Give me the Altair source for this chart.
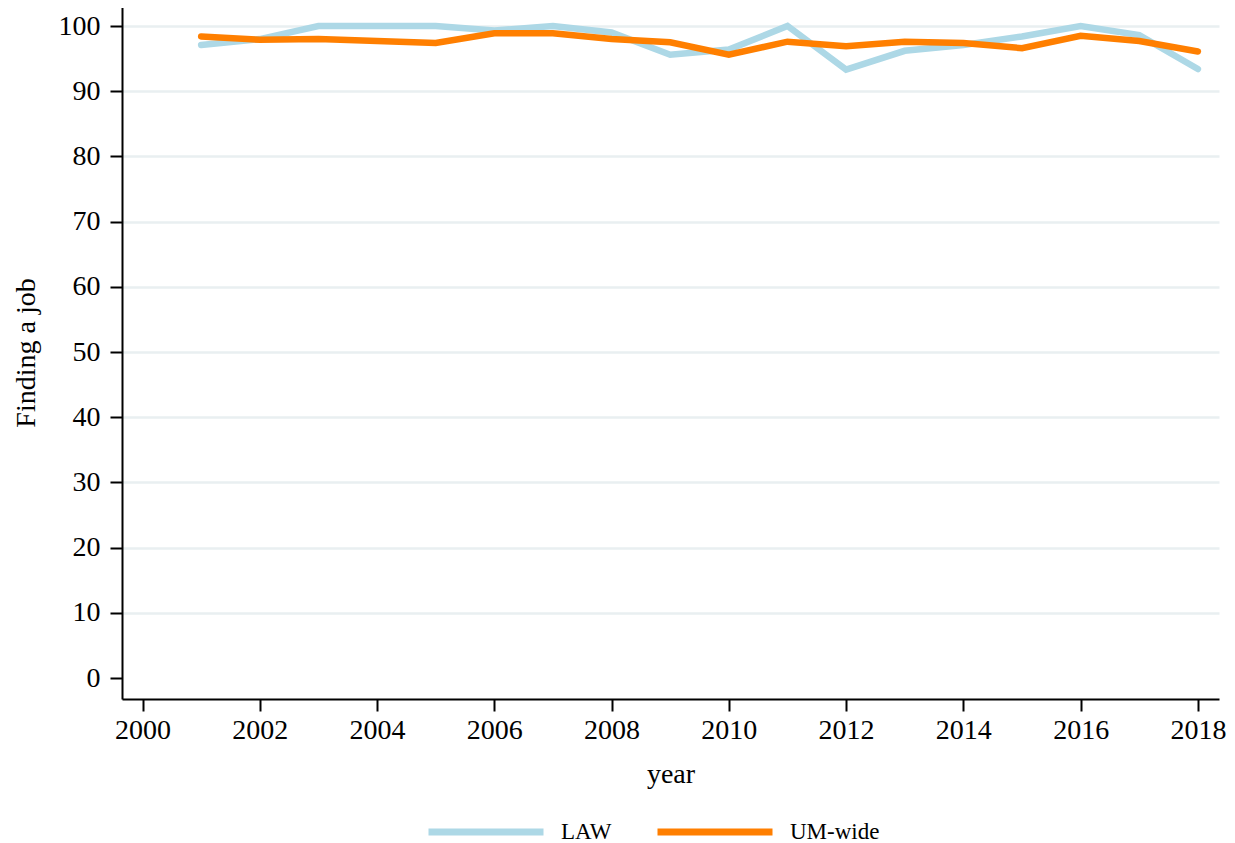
import altair as alt
import pandas as pd

years = list(range(2001, 2019))
law = [97.1, 98.0, 100.0, 100.0, 100.0, 99.3, 100.0, 99.0, 95.6, 96.4,
       100.0, 93.3, 96.2, 97.1, 98.4, 100.0, 98.6, 93.4]
um_wide = [98.4, 97.9, 98.0, 97.7, 97.4, 98.9, 98.9, 98.0, 97.5, 95.6,
           97.6, 96.9, 97.6, 97.4, 96.6, 98.5, 97.7, 96.1]
series_names = ["LAW", "UM-wide"]
series_colors = ["#add8e6", "#ff7f00"]
x_ticks = list(range(2000, 2019, 2))
y_ticks = list(range(0, 101, 10))

rows = []
for name, vals in zip(series_names, [law, um_wide]):
    for yr, v in zip(years, vals):
        rows.append({"year": yr, "value": v, "series": name})
df = pd.DataFrame(rows)

FONT = "Liberation Serif"

chart = alt.Chart(df).mark_line(strokeWidth=6.5, strokeCap="round").encode(
    x=alt.X("year:Q",
            scale=alt.Scale(domain=[1999.65, 2018.36], nice=False, zero=False),
            axis=alt.Axis(values=x_ticks, format="d", title="year", grid=False,
                          labelPadding=5, titlePadding=16)),
    y=alt.Y("value:Q",
            scale=alt.Scale(domain=[-3.22, 103.07], nice=False, zero=False),
            axis=alt.Axis(values=y_ticks, title="Finding a job", grid=True,
                          gridColor="#e9eff1", gridWidth=2.5,
                          gridOpacity={"condition": {"test": "datum.value === 0", "value": 0}, "value": 1},
                          labelPadding=10, titlePadding=18)),
    color=alt.Color("series:N",
                    scale=alt.Scale(domain=series_names, range=series_colors),
                    legend=alt.Legend(orient="none", legendX=349, legendY=811,
                                      direction="horizontal", title=None,
                                      symbolType="M-5,0H5", symbolSize=529,
                                      symbolStrokeWidth=7, labelFontSize=23,
                                      labelFont=FONT, labelColor="black",
                                      labelOffset=60, columnPadding=31, padding=0)),
).properties(
    width=1097, height=693,
    autosize=alt.AutoSizeParams(type="none"),
    padding={"left": 114, "top": -2, "right": 8, "bottom": 150},
).configure_view(stroke=None).configure_axis(
    domainColor="black", domainWidth=2, tickColor="black", tickWidth=2, tickSize=12,
    labelFont=FONT, labelFontSize=28, labelColor="black",
    titleFont=FONT, titleFontSize=28, titleFontWeight="normal", titleColor="black",
)

chart.save("out.html", embed_options={"renderer": "svg", "actions": False})
